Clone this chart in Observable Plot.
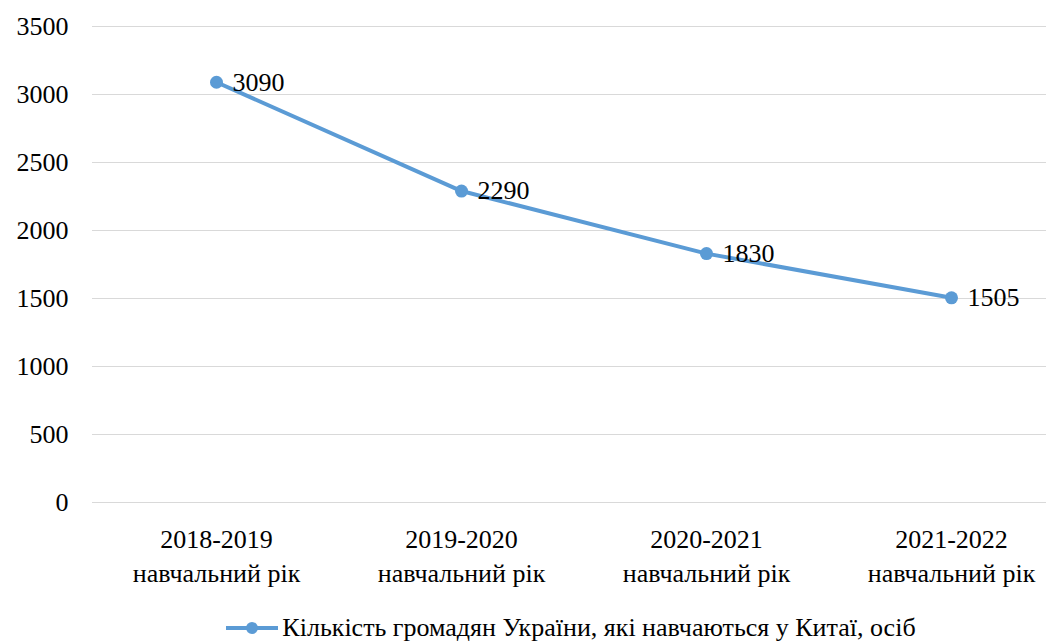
<!DOCTYPE html>
<html>
<head>
<meta charset="utf-8">
<script src="https://cdn.jsdelivr.net/npm/d3@7"></script>
<script src="https://cdn.jsdelivr.net/npm/@observablehq/plot@0.6"></script>
<style>
  html, body { margin: 0; padding: 0; background: #fff; }
  body { width: 1046px; height: 642px; overflow: hidden; font-family: 'Liberation Serif', 'Times New Roman', serif; }
  #legend { position: absolute; left: 0; top: 612px; width: 1046px; height: 32px; display: flex; justify-content: center; align-items: center; color: #000; padding-left: 94px; box-sizing: border-box; font-size: 26px; }
  #legend svg { margin-right: 2px; }
</style>
</head>
<body>
<div id="chart"></div>
<div id="legend"></div>
<script>
// Ukrainian citizens studying in China, by academic year
const years = ["2018-2019", "2019-2020", "2020-2021", "2021-2022"];
const yearSuffix = "навчальний рік";
const students = [3090, 2290, 1830, 1505];
const yTicks = [0, 500, 1000, 1500, 2000, 2500, 3000, 3500];
const seriesName = "Кількість громадян України, які навчаються у Китаї, осіб";

const serif = "'Liberation Serif', 'Times New Roman', serif";
const lineColor = "#5b9bd5";
const rows = years.map((y, i) => ({year: y, value: students[i]}));

const chart = Plot.plot({
  width: 1046,
  height: 612,
  marginLeft: 92,
  marginRight: 0,
  marginTop: 26,
  marginBottom: 110,
  style: {fontFamily: serif, fontSize: "26px", color: "#000", background: "#fff"},
  x: {type: "point", domain: years, range: [216, 951], padding: 0},
  y: {domain: [0, 3500]},
  marks: [
    Plot.gridY(yTicks, {stroke: "#d9d9d9", strokeOpacity: 1, strokeWidth: 1.2}),
    Plot.axisY(yTicks, {tickSize: 0, tickPadding: 24, label: null, fill: "#000", fontSize: 26, tickFormat: d => String(d)}),
    Plot.axisX(years, {
      tickSize: 0, tickPadding: 22, label: null, lineHeight: 1.3, fill: "#000", fontSize: 26,
      tickFormat: d => d + "\n" + yearSuffix
    }),
    Plot.line(rows, {x: "year", y: "value", stroke: lineColor, strokeWidth: 4}),
    Plot.dot(rows, {x: "year", y: "value", r: 6.5, fill: lineColor}),
    Plot.text(rows, {x: "year", y: "value", text: d => String(d.value), dx: 16, textAnchor: "start", fill: "#000", fontSize: 26})
  ]
});
document.getElementById("chart").append(chart);

// Legend: line-with-marker swatch followed by the series name
const legend = document.getElementById("legend");
legend.innerHTML =
  `<svg width="56" height="20"><line x1="2" y1="10" x2="54" y2="10" stroke="${lineColor}" stroke-width="4"/>` +
  `<circle cx="28" cy="10" r="6" fill="${lineColor}"/></svg>` +
  `<span>${seriesName}</span>`;
</script>
</body>
</html>
